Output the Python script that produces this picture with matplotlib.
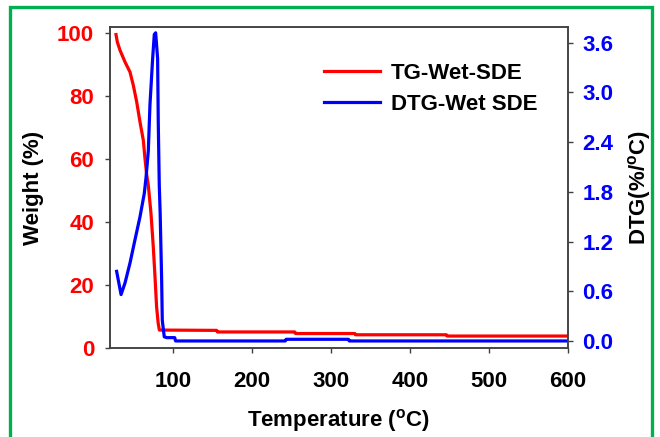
import matplotlib
matplotlib.use('Agg')
import matplotlib.pyplot as plt
import matplotlib.patches as mpatches

plt.rcParams['font.family'] = ['Liberation Sans', 'DejaVu Sans']
plt.rcParams['font.weight'] = 'bold'
plt.rcParams['mathtext.fontset'] = 'custom'
plt.rcParams['mathtext.rm'] = 'Liberation Sans:bold'
plt.rcParams['mathtext.bf'] = 'Liberation Sans:bold'

# ── Data ──────────────────────────────────────────────────────────────────
tg_temp = [27.6, 29.3, 32.7, 39, 45.3, 49.5, 53.8, 58, 62.2, 64.3, 66.5,
           68.5, 71.9, 74.8, 77, 79, 81, 82.5,
           155, 156, 254, 255, 330, 331, 446, 447, 600]
tg_weight = [99.6, 97.2, 94.6, 90.9, 87.7, 83.5, 78.2, 71.8, 66, 60.2, 55,
             51.7, 42.8, 32.2, 22.6, 13.1, 7.9, 5.7,
             5.6, 5.1, 5.1, 4.6, 4.6, 4.2, 4.2, 3.8, 3.8]

dtg_temp = [28.4, 34, 39, 45.3, 51.6, 58, 63.4, 65.6, 68.5, 70.6, 74, 76.1,
            77.8, 80.3, 81.1, 82.4, 83.5, 85.4, 86.2, 88.7, 92, 102, 103,
            242, 243, 322, 323, 600]
dtg_val = [0.84, 0.56, 0.70, 0.94, 1.22, 1.50, 1.78, 1.97, 2.29, 2.85, 3.41,
           3.70, 3.72, 3.41, 2.65, 1.88, 1.55, 0.74, 0.25, 0.05, 0.04, 0.04,
           0.0, 0.0, 0.02, 0.02, 0.0, 0.0]

x_ticks = [100, 200, 300, 400, 500, 600]
w_ticks = [0, 20, 40, 60, 80, 100]
d_ticks = [0.0, 0.6, 1.2, 1.8, 2.4, 3.0, 3.6]

RED, BLUE, GREEN, SPINE = '#ff0000', '#0000ff', '#00b050', '#404040'
FS = 16

W, H = 660, 437
fig = plt.figure(figsize=(W / 100, H / 100), dpi=100)
ax = fig.add_axes([110 / W, 1 - 348 / H, 458 / W, 321 / H])
ax2 = ax.twinx()

l1, = ax.plot(tg_temp, tg_weight, color=RED, lw=2.3, label='TG-Wet-SDE')
l2, = ax2.plot(dtg_temp, dtg_val, color=BLUE, lw=2.3, label='DTG-Wet SDE')

ax.set_xlim(20, 600)
ax.set_ylim(0, 102)
ax2.set_ylim(-0.085, 3.79)
ax.set_xticks(x_ticks)
ax.set_yticks(w_ticks)
ax2.set_yticks(d_ticks)
ax2.set_yticklabels([f'{v:.1f}' for v in d_ticks])

for a in (ax, ax2):
    for s in a.spines.values():
        s.set_color(SPINE)
        s.set_linewidth(1.1)
ax.tick_params(axis='x', direction='out', length=3.5, width=1, color=SPINE,
               labelsize=FS, pad=13)
ax.tick_params(axis='y', direction='out', length=3.5, width=1, color=SPINE,
               labelsize=FS, labelcolor=RED, pad=8)
ax2.tick_params(axis='y', direction='out', length=3.5, width=1, color=SPINE,
                labelsize=FS, labelcolor=BLUE, pad=7)

ax.set_xlabel(r'Temperature ($\mathregular{^o}$C)', fontsize=FS, fontweight='bold')
ax.set_ylabel('Weight (%)', fontsize=FS, fontweight='bold')
ax2.set_ylabel(r'DTG(%/$\mathregular{^o}$C)', fontsize=FS, fontweight='bold')
ax.xaxis.set_label_coords(0.5, -(407 - 348) / 321)
ax.yaxis.set_label_coords(-(110 - 44) / 458, 0.5)
ax2.yaxis.set_label_coords(1 + (626 - 568) / 458, 0.5)

ax2.legend(handles=[l1, l2], loc='upper left', frameon=False, fontsize=FS,
           bbox_to_anchor=(324 / W, 1 - 63 / H), bbox_transform=fig.transFigure,
           borderpad=0, borderaxespad=0, handlelength=2.5, handletextpad=0.5,
           labelspacing=0.45)

# green frame
fig.add_artist(mpatches.Rectangle((10 / W, -0.05), 642 / W, 1.05 - 7 / H,
                                  transform=fig.transFigure, fill=False,
                                  edgecolor=GREEN, linewidth=2.4))

fig.savefig('out.png', dpi=100)
